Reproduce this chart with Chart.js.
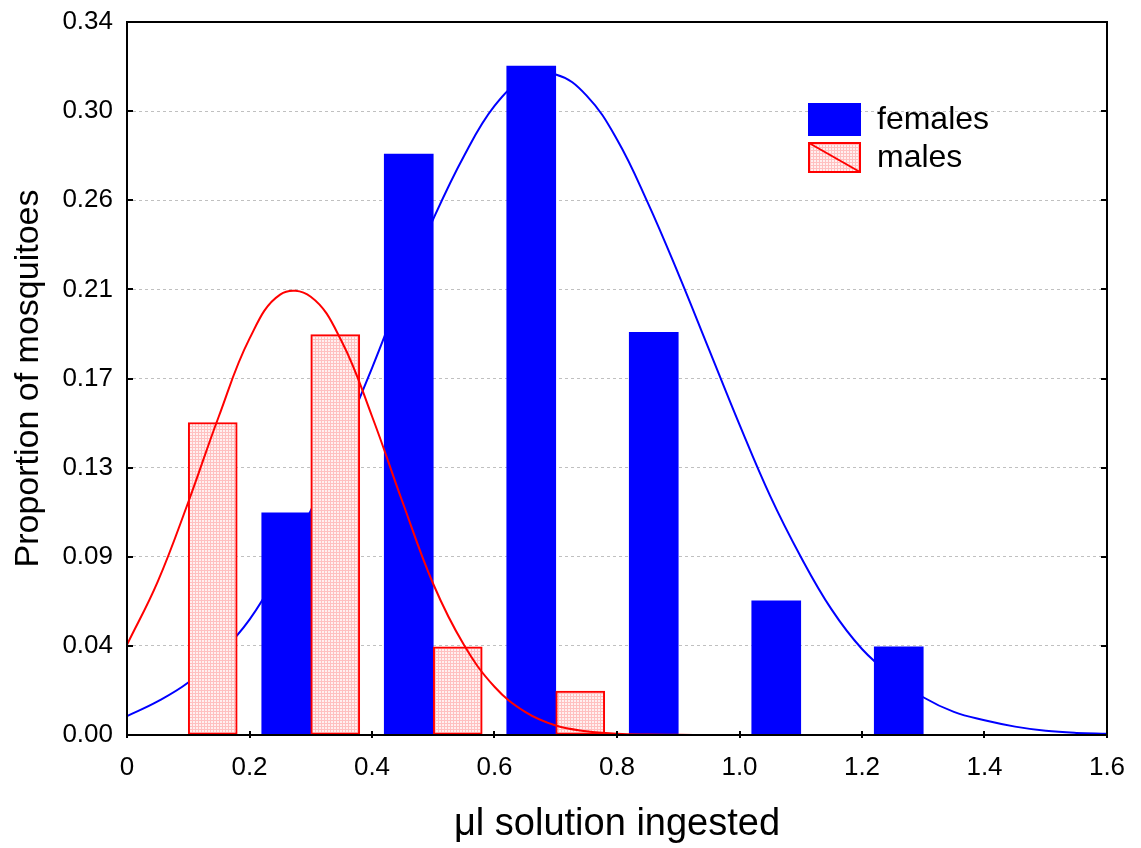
<!DOCTYPE html>
<html>
<head>
<meta charset="utf-8">
<script src="https://cdn.jsdelivr.net/npm/chart.js@4.4.1/dist/chart.umd.min.js"></script>
<style>
  html, body { margin: 0; padding: 0; background: #fff; }
  #wrap { width: 1141px; height: 848px; }
</style>
</head>
<body>
<div id="wrap"><canvas id="chart" width="1141" height="848"></canvas></div>
<script>
// ---- Data ----------------------------------------------------------------
const femaleBinCenters = [0.26, 0.46, 0.66, 0.86, 1.06, 1.26];
const femaleProportions = [0.106, 0.277, 0.319, 0.192, 0.064, 0.042];

const maleBinCenters = [0.14, 0.34, 0.54, 0.74];
const maleProportions = [0.149, 0.191, 0.042, 0.021];

// fitted curves, every 0.05
const curveX = [0.00, 0.05, 0.10, 0.15, 0.20, 0.25, 0.30, 0.35, 0.40, 0.45, 0.50, 0.55, 0.60, 0.65, 0.70, 0.75, 0.80,
  0.85, 0.90, 0.95, 1.00, 1.05, 1.10, 1.15, 1.20, 1.25, 1.30, 1.35, 1.40, 1.45, 1.50, 1.55, 1.60];
const femaleCurveY = [0.009, 0.016, 0.025, 0.038, 0.055, 0.079, 0.107, 0.140, 0.175, 0.212, 0.246, 0.276, 0.300, 0.313, 0.315, 0.305, 0.284,
  0.254, 0.220, 0.184, 0.148, 0.114, 0.085, 0.060, 0.041, 0.028, 0.018, 0.011, 0.007, 0.004, 0.002, 0.001, 0.0006];
const maleCurveY = [0.043, 0.073, 0.111, 0.152, 0.189, 0.210, 0.209, 0.188, 0.152, 0.111, 0.072, 0.043, 0.023, 0.011, 0.0045, 0.0018, 0.0006,
  0.0002, 0.0001, 0, 0, 0, 0, 0, 0, 0, 0, 0, 0, 0, 0, 0, 0];

const xTickLabels = ["0", "0.2", "0.4", "0.6", "0.8", "1.0", "1.2", "1.4", "1.6"];
const yTickLabels = ["0.00", "0.04", "0.09", "0.13", "0.17", "0.21", "0.26", "0.30", "0.34"];
const yMax = 0.34;

const xTitle = "\u03bcl solution ingested";
const yTitle = "Proportion of mosquitoes";

// ---- Helpers -------------------------------------------------------------
const FONT = '"Liberation Sans", Arial, Helvetica, sans-serif';
const BLUE = "#0000ff";
const RED = "#ff0000";

function zipXY(xs, ys) {
  return xs.map((x, i) => ({ x: x, y: ys[i] }));
}

// fine pink grid used as fill for the male bars
function makeMalePattern() {
  const c = document.createElement("canvas");
  c.width = 3;
  c.height = 3;
  const g = c.getContext("2d");
  g.fillStyle = "#fff0f0";
  g.fillRect(0, 0, 3, 3);
  g.fillStyle = "#ffc0c0";
  g.fillRect(0, 0, 3, 1);
  g.fillRect(0, 0, 1, 3);
  return g.createPattern(c, "repeat");
}
const malePattern = makeMalePattern();

// ---- Plugins: boxed frame with inward ticks, and the inset legend --------
const frameTicks = {
  id: "frameTicks",
  afterDraw(chart) {
    const { ctx, chartArea: a, scales } = chart;
    ctx.save();
    ctx.strokeStyle = "#000";
    ctx.lineWidth = 2;
    ctx.strokeRect(a.left, a.top, a.right - a.left, a.bottom - a.top);
    ctx.beginPath();
    scales.y.ticks.forEach((t) => {
      const py = Math.round(scales.y.getPixelForValue(t.value));
      ctx.moveTo(a.left, py);
      ctx.lineTo(a.left + 6, py);
      ctx.moveTo(a.right - 6, py);
      ctx.lineTo(a.right, py);
    });
    scales.x.ticks.forEach((t) => {
      const px = Math.round(scales.x.getPixelForValue(t.value));
      ctx.moveTo(px, a.bottom + 3);
      ctx.lineTo(px, a.bottom - 4);
    });
    ctx.stroke();
    ctx.restore();
  },
};

const insetLegend = {
  id: "insetLegend",
  afterDraw(chart) {
    const { ctx } = chart;
    const items = chart.data.datasets.filter((d) => d.type === "bar");
    const boxX = 808, boxW = 53;
    const rows = [{ y: 103, h: 33 }, { y: 142, h: 31 }];
    ctx.save();
    ctx.font = "32px " + FONT;
    ctx.textBaseline = "middle";
    items.forEach((ds, i) => {
      const r = rows[i];
      ctx.fillStyle = ds.backgroundColor;
      ctx.fillRect(boxX, r.y, boxW, r.h);
      if (ds.borderWidth) {
        ctx.strokeStyle = ds.borderColor;
        ctx.lineWidth = 2;
        ctx.strokeRect(boxX + 1, r.y + 1, boxW - 2, r.h - 2);
        ctx.beginPath();
        ctx.moveTo(boxX + 1, r.y + 1);
        ctx.lineTo(boxX + boxW - 1, r.y + r.h - 1);
        ctx.stroke();
      }
      ctx.fillStyle = "#000";
      ctx.fillText(ds.label, 877, r.y + r.h / 2 + 1);
    });
    ctx.restore();
  },
};

// ---- Chart ---------------------------------------------------------------
const ctx = document.getElementById("chart").getContext("2d");
new Chart(ctx, {
  data: {
    datasets: [
      {
        type: "line",
        label: "females fit",
        data: zipXY(curveX, femaleCurveY),
        borderColor: BLUE,
        borderWidth: 2,
        pointRadius: 0,
        tension: 0.4,
        fill: false,
        order: 4,
      },
      {
        type: "bar",
        label: "females",
        data: zipXY(femaleBinCenters, femaleProportions),
        backgroundColor: BLUE,
        borderWidth: 0,
        barThickness: 49,
        grouped: false,
        order: 3,
      },
      {
        type: "bar",
        label: "males",
        data: zipXY(maleBinCenters, maleProportions),
        backgroundColor: malePattern,
        borderColor: RED,
        borderWidth: 2,
        borderSkipped: false,
        barThickness: 49,
        grouped: false,
        order: 2,
      },
      {
        type: "line",
        label: "males fit",
        data: zipXY(curveX, maleCurveY),
        borderColor: RED,
        borderWidth: 2,
        pointRadius: 0,
        tension: 0.4,
        fill: false,
        order: 1,
      },
    ],
  },
  options: {
    responsive: false,
    animation: false,
    layout: { padding: { left: 4, right: 34, top: 22, bottom: 0 } },
    plugins: {
      legend: { display: false },
      tooltip: { enabled: false },
    },
    scales: {
      x: {
        type: "linear",
        min: 0,
        max: 1.6,
        offset: false,
        afterBuildTicks: (scale) => {
          scale.ticks = xTickLabels.map((s) => ({ value: parseFloat(s) }));
        },
        afterFit: (scale) => {
          scale.height = 113;
          scale.paddingLeft = 0;
          scale.paddingRight = 0;
        },
        grid: { display: false, drawTicks: false },
        border: { display: false },
        ticks: {
          color: "#000",
          padding: 17,
          maxRotation: 0,
          autoSkip: false,
          font: { family: FONT, size: 26 },
          callback: (v, i) => xTickLabels[i],
        },
        title: {
          display: true,
          text: xTitle,
          color: "#000",
          padding: { top: 4, bottom: 1 },
          font: { family: FONT, size: 38 },
        },
      },
      y: {
        type: "linear",
        min: 0,
        max: yMax,
        afterBuildTicks: (scale) => {
          scale.ticks = yTickLabels.map((_, i) => ({ value: (yMax * i) / (yTickLabels.length - 1) }));
        },
        afterFit: (scale) => {
          scale.width = 123;
          scale.paddingTop = 0;
          scale.paddingBottom = 0;
        },
        grid: {
          color: "#c0c0c0",
          lineWidth: 1,
          drawTicks: false,
        },
        border: { display: false, dash: [3, 3] },
        ticks: {
          color: "#000",
          padding: 14,
          autoSkip: false,
          font: { family: FONT, size: 26 },
          callback: (v, i) => yTickLabels[i],
        },
        title: {
          display: true,
          text: yTitle,
          color: "#000",
          font: { family: FONT, size: 34 },
        },
      },
    },
  },
  plugins: [frameTicks, insetLegend],
});
</script>
</body>
</html>
